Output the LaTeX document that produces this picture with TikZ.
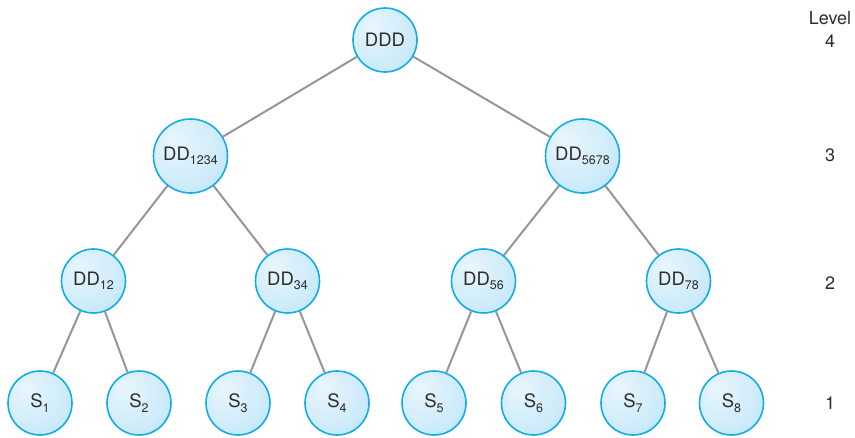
\documentclass[tikz,border=0pt]{standalone}
\usepackage{fontspec}
\setmainfont{TeX Gyre Heros}
\definecolor{nodeA}{RGB}{232,246,253}
\definecolor{nodeB}{RGB}{205,235,250}
\definecolor{nodeC}{RGB}{165,220,246}
\definecolor{nodeD}{RGB}{125,205,242}
\definecolor{rimcol}{RGB}{20,172,228}
\definecolor{edgecol}{RGB}{150,150,150}
\definecolor{txtcol}{RGB}{45,45,45}
\pgfdeclareradialshading{nodeshade}{\pgfpoint{-12bp}{12bp}}{color(0bp)=(nodeA); color(28bp)=(nodeB); color(50bp)=(nodeC); color(66bp)=(nodeD)}
\newcommand\subsc[1]{\raisebox{-0.45ex}{\fontsize{12.5}{14}\selectfont #1}}
\tikzset{
  tnode/.style={circle, draw=rimcol, line width=1.6pt, shading=nodeshade, minimum size=64pt, inner sep=0pt, text=txtcol, font=\fontsize{18.5}{20}\selectfont},
  bignode/.style={tnode, minimum size=74pt},
  conn/.style={draw=edgecol, line width=2pt},
  lvl/.style={text=txtcol, font=\fontsize{18}{20}\selectfont, inner sep=0pt}
}
\begin{document}
\begin{tikzpicture}[x=1pt,y=-1pt]
\useasboundingbox (0,0) rectangle (855,437);
% nodes
\node[tnode] (ddd) at (385,40) {DDD};
\node[bignode] (dd1234) at (190.5,156) {DD\subsc{1234}};
\node[bignode] (dd5678) at (582.5,156) {DD\subsc{5678}};
\node[tnode] (dd12) at (93.5,281) {DD\subsc{12}};
\node[tnode] (dd34) at (287.5,281) {DD\subsc{34}};
\node[tnode] (dd56) at (483.5,281) {DD\subsc{56}};
\node[tnode] (dd78) at (678.5,281) {DD\subsc{78}};
\node[tnode] (s1) at (40,403) {S\subsc{1}};
\node[tnode] (s2) at (139,403) {S\subsc{2}};
\node[tnode] (s3) at (238,403) {S\subsc{3}};
\node[tnode] (s4) at (337,403) {S\subsc{4}};
\node[tnode] (s5) at (434,403) {S\subsc{5}};
\node[tnode] (s6) at (533.5,403) {S\subsc{6}};
\node[tnode] (s7) at (633,403) {S\subsc{7}};
\node[tnode] (s8) at (731.5,403) {S\subsc{8}};
% connectors
\draw[conn] (ddd) -- (dd1234);
\draw[conn] (ddd) -- (dd5678);
\draw[conn] (dd1234) -- (dd12);
\draw[conn] (dd1234) -- (dd34);
\draw[conn] (dd5678) -- (dd56);
\draw[conn] (dd5678) -- (dd78);
\draw[conn] (dd12) -- (s1);
\draw[conn] (dd12) -- (s2);
\draw[conn] (dd34) -- (s3);
\draw[conn] (dd34) -- (s4);
\draw[conn] (dd56) -- (s5);
\draw[conn] (dd56) -- (s6);
\draw[conn] (dd78) -- (s7);
\draw[conn] (dd78) -- (s8);
% level labels
\node[lvl] (lvltitle) at (830,18) {Level};
\node[lvl] (lv4) at (830,41) {4};
\node[lvl] (lv3) at (830,155) {3};
\node[lvl] (lv2) at (830,283) {2};
\node[lvl] (lv1) at (830,403) {1};
\end{tikzpicture}
\end{document}
